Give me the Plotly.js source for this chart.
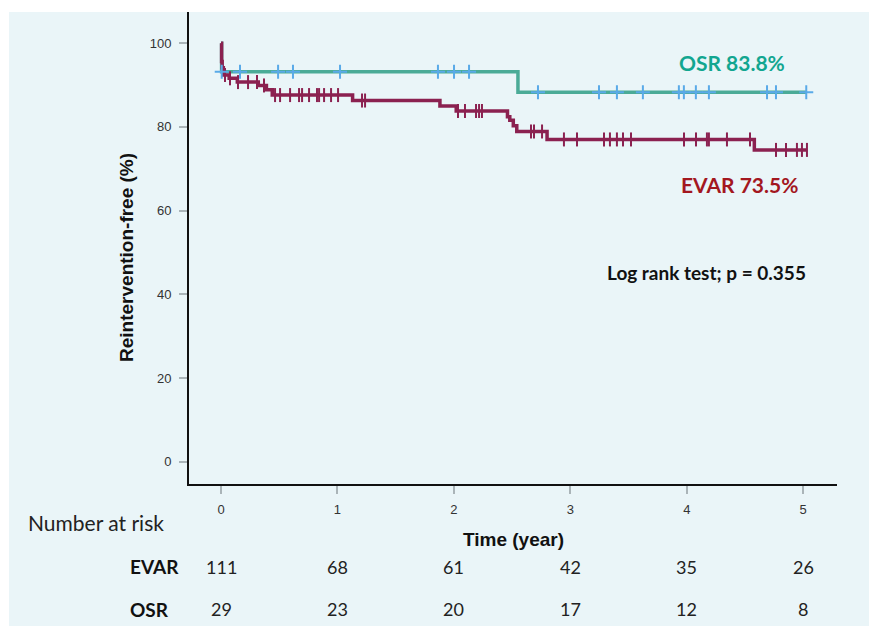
<!DOCTYPE html>
<html>
<head>
<meta charset="utf-8">
<script src="https://cdn.plot.ly/plotly-3.0.1.min.js"></script>
<style>
  html, body { margin: 0; padding: 0; background: #ffffff; }
  #chart { position: absolute; left: 9px; top: 12px; width: 860px; height: 614px; }
</style>
</head>
<body>
<div id="chart"></div>
<script>
// ---- Data ----
// Kaplan-Meier step points (time in years, reintervention-free %)
const evarTimes = [0, 0.005, 0.01, 0.02, 0.07, 0.14, 0.32, 0.39, 0.44, 1.13, 1.88, 2.02, 2.46, 2.48, 2.51, 2.54, 2.80, 4.58, 5.03];
const evarSurv  = [100, 95.6, 94.1, 92.4, 91.6, 90.7, 89.9, 88.9, 87.6, 86.3, 85.0, 83.8, 82.4, 81.6, 80.3, 78.9, 77.0, 74.5, 74.5];
const osrTimes  = [0, 0.005, 2.55, 5.03];
const osrSurv   = [100, 93.2, 88.3, 88.3];

// Censoring times (years)
const evarCensored = [0.034, 0.077, 0.146, 0.232, 0.309, 0.369, 0.464, 0.507, 0.593, 0.670, 0.696, 0.756, 0.824, 0.842, 0.885, 0.945, 1.005, 1.211, 1.237, 2.035, 2.095, 2.19, 2.216, 2.241, 2.662, 2.688, 2.757, 2.945, 3.057, 3.289, 3.34, 3.40, 3.452, 3.521, 3.976, 4.079, 4.173, 4.19, 4.345, 4.543, 4.766, 4.852, 4.946, 4.989, 5.032];
const osrCensored  = [0.006, 0.163, 0.49, 0.618, 1.022, 1.863, 2.001, 2.13, 2.722, 3.246, 3.40, 3.623, 3.932, 3.975, 4.078, 4.19, 4.689, 4.766, 5.026];

// Number at risk table
const riskTimes = [0, 1, 2, 3, 4, 5];
const evarRisk  = [111, 68, 61, 42, 35, 26];
const osrRisk   = [29, 23, 20, 17, 12, 8];

const yTicks = [0, 20, 40, 60, 80, 100];
const xTicks = [0, 1, 2, 3, 4, 5];

// ---- helpers ----
function stepValue(times, surv, t) {
  let v = surv[0];
  for (let i = 0; i < times.length; i++) { if (times[i] <= t + 1e-9) v = surv[i]; }
  return v;
}

const EVAR_LINE = '#8B2150';
const OSR_LINE = '#4BAB97';
const OSR_MARK = '#5AAAE8';

const traces = [
  { x: osrTimes, y: osrSurv, type: 'scatter', mode: 'lines', line: { shape: 'hv', color: OSR_LINE, width: 3.5 }, hoverinfo: 'skip' },
  { x: evarTimes, y: evarSurv, type: 'scatter', mode: 'lines', line: { shape: 'hv', color: EVAR_LINE, width: 3.5 }, hoverinfo: 'skip' },
  { x: evarCensored, y: evarCensored.map(t => stepValue(evarTimes, evarSurv, t)), type: 'scatter', mode: 'markers',
    marker: { symbol: 'line-ns', size: 10, line: { color: EVAR_LINE, width: 2 } }, hoverinfo: 'skip' },
  { x: osrCensored, y: osrCensored.map(t => stepValue(osrTimes, osrSurv, t)), type: 'scatter', mode: 'markers',
    marker: { symbol: 'cross-thin', size: 10, line: { color: OSR_MARK, width: 2 } }, hoverinfo: 'skip' }
];

const annotations = [];
const txtFont = 'Lato, "Open Sans", sans-serif';
const arial = '"Liberation Sans", Arial, sans-serif';
riskTimes.forEach((t, i) => {
  annotations.push({ x: t, xref: 'x', y: -0.1752, yref: 'paper', text: String(evarRisk[i]), showarrow: false,
    xanchor: 'center', yanchor: 'middle', font: { family: txtFont, size: 18, color: '#222' } });
  annotations.push({ x: t, xref: 'x', y: -0.2655, yref: 'paper', text: String(osrRisk[i]), showarrow: false,
    xanchor: 'center', yanchor: 'middle', font: { family: txtFont, size: 18, color: '#222' } });
});
annotations.push(
  { x: -0.1435, xref: 'paper', y: -0.0826, yref: 'paper', text: 'Number at risk', showarrow: false,
    xanchor: 'center', yanchor: 'middle', font: { family: txtFont, size: 21, color: '#222' } },
  { x: -0.0941, xref: 'paper', y: -0.1752, yref: 'paper', text: '<b>EVAR</b>', showarrow: false,
    xanchor: 'left', yanchor: 'middle', font: { family: txtFont, size: 19, color: '#111' } },
  { x: -0.0941, xref: 'paper', y: -0.2655, yref: 'paper', text: '<b>OSR</b>', showarrow: false,
    xanchor: 'left', yanchor: 'middle', font: { family: txtFont, size: 19, color: '#111' } },
  { x: 0.5015, xref: 'paper', y: -0.1186, yref: 'paper', text: '<b>Time (year)</b>', showarrow: false,
    xanchor: 'center', yanchor: 'middle', font: { family: arial, size: 19, color: '#111' } },
  { x: -0.0957, xref: 'paper', y: 0.481, yref: 'paper', text: '<b>Reintervention-free (%)</b>', showarrow: false, textangle: -90,
    xanchor: 'center', yanchor: 'middle', font: { family: arial, size: 19, color: '#111' } },
  { x: 0.838, xref: 'paper', y: 0.892, yref: 'paper', text: '<b>OSR 83.8%</b>', showarrow: false,
    xanchor: 'center', yanchor: 'middle', font: { family: txtFont, size: 21, color: '#12A690' } },
  { x: 0.849, xref: 'paper', y: 0.6335, yref: 'paper', text: '<b>EVAR 73.5%</b>', showarrow: false,
    xanchor: 'center', yanchor: 'middle', font: { family: txtFont, size: 21, color: '#A3171F' } },
  { x: 0.798, xref: 'paper', y: 0.449, yref: 'paper', text: '<b>Log rank test; p = 0.355</b>', showarrow: false,
    xanchor: 'center', yanchor: 'middle', font: { family: txtFont, size: 19, color: '#111' } }
);

const layout = {
  width: 860, height: 614,
  margin: { l: 180, r: 32, t: 0, b: 142 },
  paper_bgcolor: '#EAF5F8',
  plot_bgcolor: '#EAF5F8',
  showlegend: false,
  xaxis: {
    range: [-0.275, 5.29], tickvals: xTicks, ticktext: xTicks.map(String),
    showgrid: false, zeroline: false, showline: true, linecolor: '#111', linewidth: 2,
    ticks: 'outside', ticklen: 8, tickwidth: 2, tickcolor: '#AAB4B8',
    tickfont: { family: arial, size: 13, color: '#333' }, ticklabelstandoff: 4
  },
  yaxis: {
    range: [-5.33, 107.45], tickvals: yTicks, ticktext: yTicks.map(String),
    showgrid: false, zeroline: false, showline: true, linecolor: '#111', linewidth: 2,
    ticks: 'outside', ticklen: 8, tickwidth: 2, tickcolor: '#AAB4B8',
    tickfont: { family: arial, size: 13, color: '#333' }, ticklabelstandoff: 5
  },
  annotations: annotations
};

Plotly.newPlot('chart', traces, layout, { staticPlot: true, displayModeBar: false });
</script>
</body>
</html>
